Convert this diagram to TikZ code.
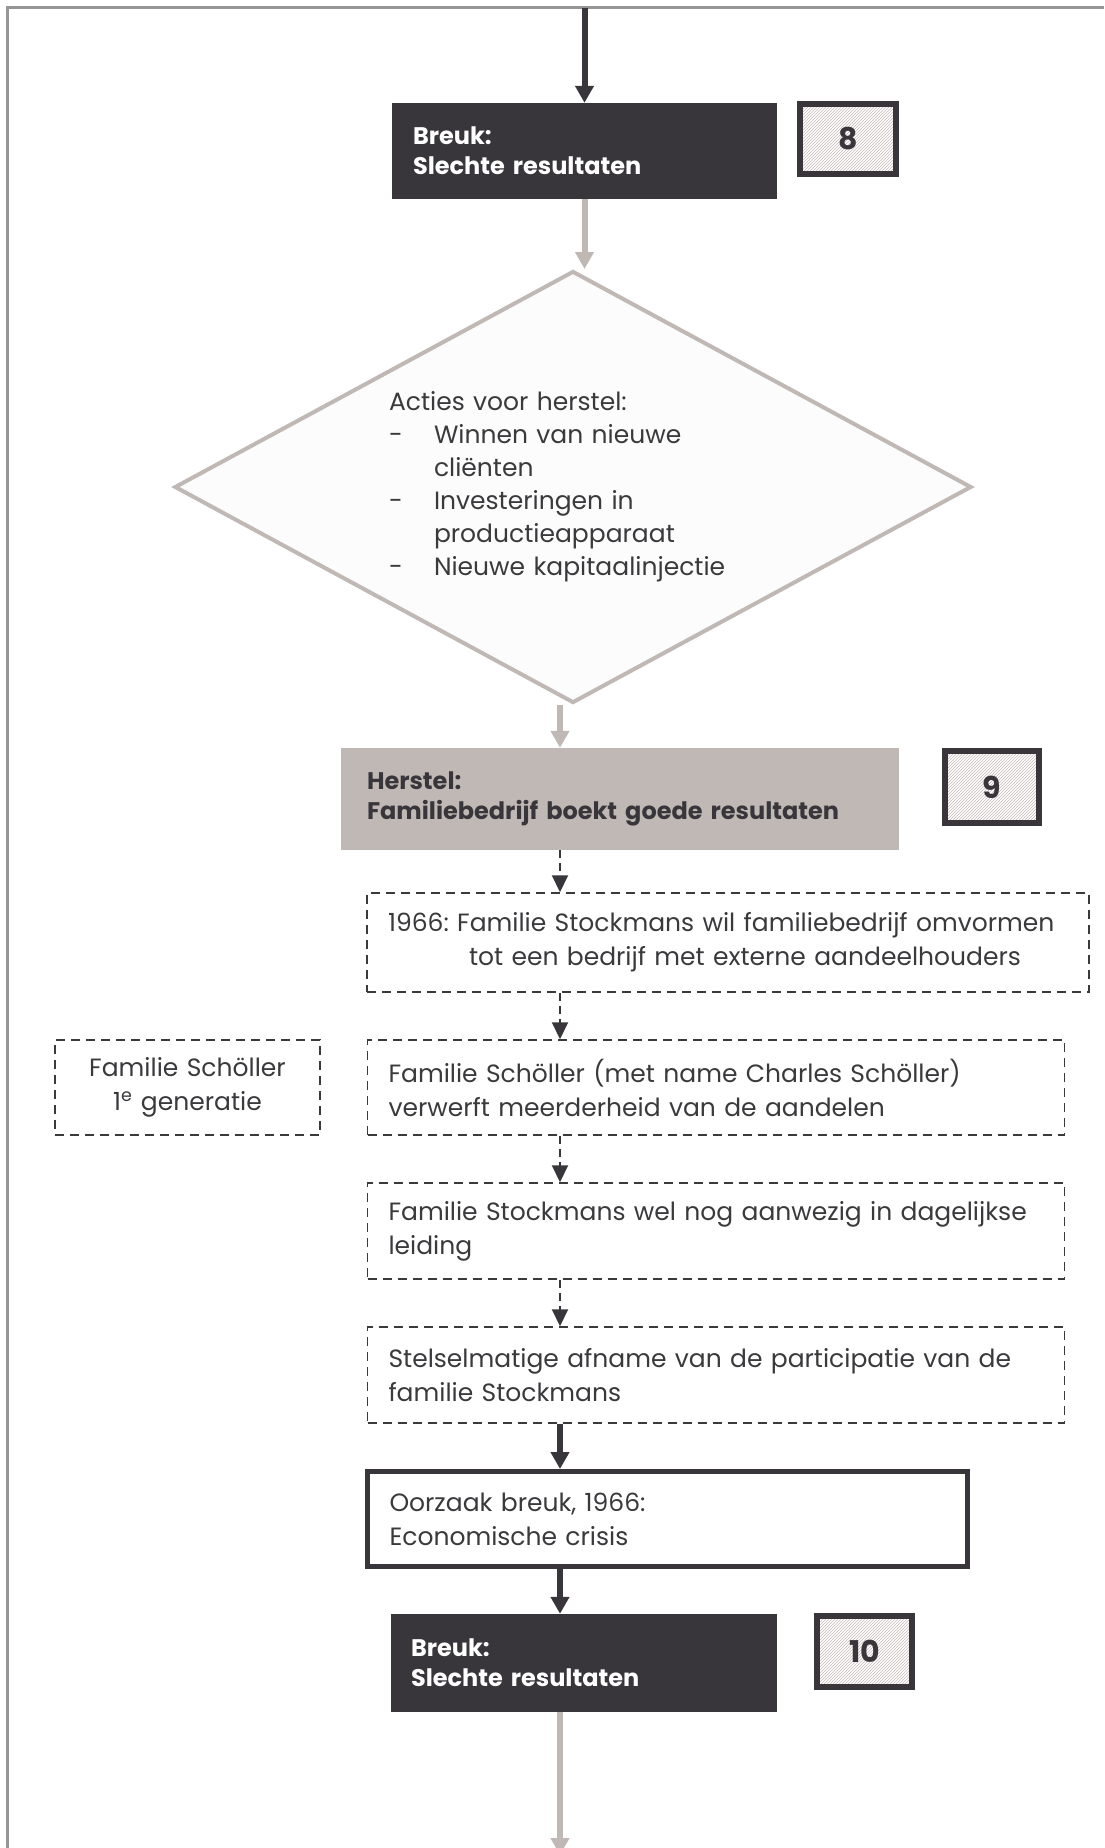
\documentclass[tikz,border=0pt]{standalone}
\usepackage{fontspec}
\setmainfont{Poppins}
\usetikzlibrary{shapes.geometric,arrows.meta,patterns}

\definecolor{darkbox}{HTML}{38363A}
\definecolor{taupe}{HTML}{C0B8B5}
\definecolor{framegray}{HTML}{969696}
\definecolor{inktext}{HTML}{3A393C}
\definecolor{hatch}{HTML}{C4BAB8}

\newcommand{\bodysize}{\fontsize{25}{34}\selectfont}
\newcommand{\headsize}{\fontsize{24}{30}\selectfont\bfseries}
\newcommand{\numsize}{\fontsize{30}{30}\selectfont\bfseries}

\begin{document}
\frenchspacing
\begin{tikzpicture}[x=1pt, y=-1pt,
    breukbox/.style={rectangle, fill=darkbox, text=white, inner xsep=21pt, inner ysep=0pt,
        align=left, font=\headsize},
    numbox/.style={rectangle, draw=darkbox, line width=6pt, pattern=north east lines,
        pattern color=hatch, text=darkbox, font=\numsize,
        minimum width=96pt, minimum height=70pt},
    dashbox/.style={rectangle, draw=inktext, line width=1.5pt, dash pattern=on 9pt off 6pt,
        text=inktext, inner xsep=21pt, inner ysep=0pt, align=left, font=\bodysize,
        minimum height=96pt},
    darkarrow/.style={draw=darkbox, line width=6pt, -{Triangle[width=18pt,length=17pt]}},
    grayarrow/.style={draw=taupe, line width=6pt, -{Triangle[width=18pt,length=17pt]}},
    dasharrow/.style={draw=darkbox, line width=2pt, dash pattern=on 8pt off 5pt,
        -{Triangle[width=16pt,length=17pt]}}
]
\useasboundingbox (0,0) rectangle (1104,1848);
% frame
\draw[framegray, line width=2.5pt] (7.5,1848) -- (7.5,7.5) -- (1104,7.5);

% Nodes
\coordinate (entry) at (584.5,7.5);
\coordinate (spine) at (560,0);
\coordinate (exit) at (560,1855);

\node[breukbox, text width=343pt, minimum height=96pt] (breukA) at (584.5,151)
    {Breuk:\\Slechte resultaten};
\node[numbox] (numA) at (848,139) {8};

\node[diamond, draw=taupe, line width=4pt, fill=white!99!black, aspect=1.84,
    inner sep=0pt, minimum width=797pt, minimum height=432pt,
    text width=368pt, align=left, text=inktext, font=\fontsize{25}{33}\selectfont]
    (diamond) at (573,487)
    {Acties voor herstel:\\
     \makebox[45pt][l]{-}Winnen van nieuwe\\
     \hspace*{45pt}cliënten\\
     \makebox[45pt][l]{-}Investeringen in\\
     \hspace*{45pt}productieapparaat\\
     \makebox[45pt][l]{-}Nieuwe kapitaalinjectie};

\node[rectangle, fill=taupe, text=darkbox, inner xsep=26pt, inner ysep=0pt, align=left,
    font=\headsize, text width=506pt, minimum height=102pt] (herstel) at (620,799)
    {Herstel:\\Familiebedrijf boekt goede resultaten};
\node[numbox, minimum width=94pt, minimum height=72pt] (numB) at (992,787) {9};

\node[dashbox, text width=680pt, minimum height=99pt] (stockA) at (728,942.5)
    {1966: Familie Stockmans wil familiebedrijf omvormen\\
     \hspace*{81pt}tot een bedrijf met externe aandeelhouders};

\node[dashbox, text width=225pt, align=center, inner xsep=20pt, minimum height=95pt]
    (schollerA) at (187.5,1087.5)
    {Familie Schöller\\1\textsuperscript{e} generatie};
\node[dashbox, text width=655pt, minimum height=95pt] (schollerB) at (716,1087.5)
    {Familie Schöller (met name Charles Schöller)\\verwerft meerderheid van de aandelen};

\node[dashbox, text width=655pt] (leiding) at (716,1231)
    {Familie Stockmans wel nog aanwezig in dagelijkse\\leiding};

\node[dashbox, text width=655pt] (afname) at (716,1375)
    {Stelselmatige afname van de participatie van de\\familie Stockmans};

\node[rectangle, draw=darkbox, line width=5pt, fill=white, text=inktext, inner xsep=22pt,
    inner ysep=0pt, align=left, font=\bodysize, text width=556pt, minimum height=95pt]
    (oorzaak) at (667.5,1519)
    {Oorzaak breuk, 1966:\\Economische crisis};

\node[breukbox, inner xsep=20pt, text width=346pt, minimum height=98pt] (breukB) at (584,1663)
    {Breuk:\\Slechte resultaten};
\node[numbox, minimum width=95pt, minimum height=71pt] (numC) at (864.5,1651.5) {10};

% Edges
\draw[darkarrow] (entry) -- (breukA.north);
\draw[grayarrow] (breukA.south) -- (breukA.south |- diamond.north);
\draw[grayarrow] (diamond.south -| spine) -- (herstel.north -| spine);
\draw[dasharrow] (herstel.south -| spine) -- (stockA.north -| spine);
\draw[dasharrow] (stockA.south -| spine) -- (schollerB.north -| spine);
\draw[dasharrow] (schollerB.south -| spine) -- (leiding.north -| spine);
\draw[dasharrow] (leiding.south -| spine) -- (afname.north -| spine);
\draw[darkarrow] (afname.south -| spine) -- (oorzaak.north -| spine);
\draw[darkarrow] (oorzaak.south -| spine) -- (breukB.north -| spine);
\draw[grayarrow] (breukB.south -| spine) -- (exit);
\end{tikzpicture}
\end{document}
